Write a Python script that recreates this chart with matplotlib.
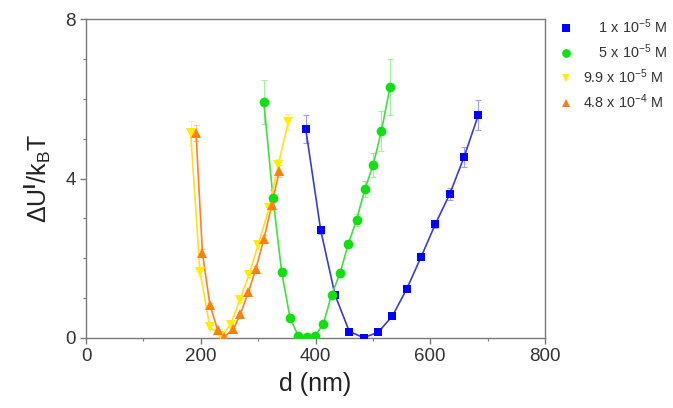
import matplotlib
matplotlib.use("Agg")
import matplotlib.pyplot as plt
from matplotlib.ticker import MultipleLocator

plt.rcParams['font.family'] = ['Liberation Sans', 'DejaVu Sans']
plt.rcParams['mathtext.fontset'] = 'custom'
plt.rcParams['mathtext.rm'] = 'Liberation Sans'
plt.rcParams['mathtext.it'] = 'Liberation Sans:italic'
plt.rcParams['mathtext.bf'] = 'Liberation Sans:bold'

# ---- data ----
d_1e5 = [383, 409, 434, 459, 484, 509, 534, 559, 584, 609, 634, 659, 684]
u_1e5 = [5.24, 2.71, 1.08, 0.16, 0.01, 0.14, 0.55, 1.23, 2.03, 2.86, 3.61, 4.54, 5.60]
e_1e5 = [0.35, 0.10, 0.05, 0.03, 0.02, 0.03, 0.05, 0.05, 0.08, 0.10, 0.15, 0.25, 0.38]

d_5e5 = [310, 326, 341, 355.5, 370, 384.5, 399, 413.6, 428, 442.7, 457, 471.7, 486, 500.7, 515, 530]
u_5e5 = [5.91, 3.50, 1.66, 0.51, 0.05, 0.03, 0.05, 0.35, 1.08, 1.62, 2.35, 2.97, 3.73, 4.35, 5.20, 6.30]
e_5e5 = [0.55, 0.20, 0.10, 0.05, 0.03, 0.02, 0.02, 0.03, 0.05, 0.08, 0.10, 0.15, 0.20, 0.30, 0.50, 0.70]

d_99e5 = [182.4, 198.7, 216, 236, 252, 268, 284, 300, 319, 335, 352.6]
u_99e5 = [5.13, 1.66, 0.27, 0.05, 0.33, 0.95, 1.58, 2.33, 3.25, 4.34, 5.41]
e_99e5 = [0.30, 0.10, 0.05, 0.03, 0.03, 0.05, 0.08, 0.10, 0.12, 0.15, 0.20]

d_48e4 = [191.7, 203, 216, 229.5, 241, 257, 269, 283, 296, 310, 323.6, 337]
u_48e4 = [5.15, 2.12, 0.83, 0.20, 0.03, 0.22, 0.60, 1.15, 1.73, 2.48, 3.33, 4.19]
e_48e4 = [0.20, 0.10, 0.05, 0.03, 0.02, 0.03, 0.05, 0.06, 0.08, 0.10, 0.12, 0.15]

labels = ["    1 x 10$^{-5}$ M", "    5 x 10$^{-5}$ M", "9.9 x 10$^{-5}$ M", "4.8 x 10$^{-4}$ M"]

series = [
    (d_1e5, u_1e5, e_1e5, 's', '#0000ff', '#3b3bd6', '#a0a0f0', 6),
    (d_5e5, u_5e5, e_5e5, 'o', '#10e010', '#40e040', '#a0f0a0', 7),
    (d_99e5, u_99e5, e_99e5, 'v', '#ffee00', '#ffe020', '#fff0a0', 7),
    (d_48e4, u_48e4, e_48e4, '^', '#ff7f10', '#ff7f30', '#ffc8a0', 7),
]

fig = plt.figure(figsize=(6.73, 4.08), dpi=100)
ax = fig.add_axes([0.1278, 0.1716, 0.6820, 0.7818])

handles = []
for (x, y, e, m, c, lc, ec, ms), lab in zip(series, labels):
    ax.errorbar(x, y, yerr=e, fmt='none', ecolor=ec, elinewidth=0.8, capsize=2, capthick=0.8, zorder=2)
    ax.plot(x, y, '-', color=lc, lw=1.2, zorder=3)
    h, = ax.plot(x, y, linestyle='none', marker=m, color=c, markersize=ms,
                 markeredgewidth=0, zorder=4, label=lab)
    handles.append(h)

ax.set_xlim(0, 800)
ax.set_ylim(0, 8)
ax.xaxis.set_major_locator(MultipleLocator(200))
ax.xaxis.set_minor_locator(MultipleLocator(100))
ax.yaxis.set_major_locator(MultipleLocator(4))
ax.yaxis.set_minor_locator(MultipleLocator(1))

gray = '#7a7a7a'
for s in ax.spines.values():
    s.set_color(gray)
    s.set_linewidth(1.0)
ax.tick_params(which='both', direction='out', color=gray, top=False, right=False,
               labelsize=13.5, labelcolor='#333333', pad=3)
ax.tick_params(which='major', length=4.5, width=1.0)
ax.tick_params(which='minor', length=2.5, width=0.8)

ax.set_xlabel("d (nm)", fontsize=18, color='#222222', labelpad=5)
ax.set_ylabel(r"$\Delta$U$^{\mathbf{I}}$/k$_\mathrm{B}$T", fontsize=18, color='#222222', labelpad=9)

leg = fig.legend(handles=handles, loc='upper left', bbox_to_anchor=(0.832, 0.958),
                 frameon=False, fontsize=10.4, handlelength=0.8, handletextpad=0.8,
                 labelspacing=0.45, borderpad=0, borderaxespad=0, markerscale=0.9)
for t in leg.get_texts():
    t.set_color('#333333')

fig.savefig("out.png", dpi=100)
